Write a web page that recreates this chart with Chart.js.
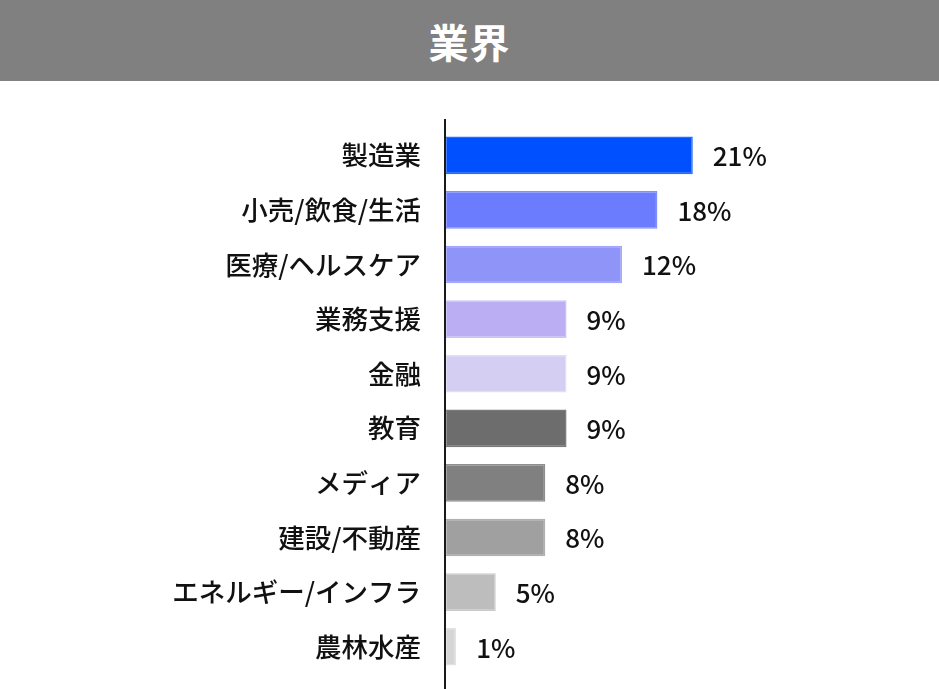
<!DOCTYPE html>
<html lang="ja">
<head>
<meta charset="utf-8">
<script src="https://cdn.jsdelivr.net/npm/chart.js@4/dist/chart.umd.min.js"></script>
<style>
  html, body { margin: 0; padding: 0; background: #fff; overflow: hidden; }
  #header {
    width: 939px; height: 81px; background: #808080; color: #fff;
    font-family: "Noto Sans CJK JP", sans-serif; font-weight: 700; font-size: 40px;
    display: flex; align-items: center; justify-content: center; letter-spacing: 1px;
  }
  canvas { display: block; }
</style>
</head>
<body>
<div id="header">業界</div>
<canvas id="chart" width="939" height="608"></canvas>
<script>
// categories (top to bottom)
const industries = [
  "製造業", "小売/飲食/生活", "医療/ヘルスケア", "業務支援", "金融",
  "教育", "メディア", "建設/不動産", "エネルギー/インフラ", "農林水産"
];
// bar lengths
const barValues = [21, 18, 15, 10.3, 10.3, 10.3, 8.5, 8.5, 4.3, 0.95];
// printed labels next to bars
const valueLabels = ["21%", "18%", "12%", "9%", "9%", "9%", "8%", "8%", "5%", "1%"];
const barColors = [
  "#0050ff", "#6b7cff", "#8f94f8", "#bbaef2", "#d4cff2",
  "#6d6d6d", "#808080", "#a0a0a0", "#bdbdbd", "#d6d6d6"
];
const borderColors = [
  "#2a6bff", "#8290ff", "#a3a7fa", "#cbc1f7", "#e2ddf8",
  "#7a7a7a", "#8e8e8e", "#b0b0b0", "#cacaca", "#e2e2e2"
];

const AXIS_X = 445;
const FONT = '"Noto Sans CJK JP", sans-serif';

const valueLabelPlugin = {
  id: "valueLabels",
  afterDatasetsDraw(chart) {
    const ctx = chart.ctx;
    const meta = chart.getDatasetMeta(0);
    ctx.save();
    ctx.fillStyle = "#111";
    ctx.font = "500 26px " + FONT;
    ctx.textAlign = "left";
    ctx.textBaseline = "middle";
    meta.data.forEach((bar, i) => {
      ctx.fillText(valueLabels[i], bar.x + 20, bar.y + 1);
    });
    ctx.restore();
  }
};

const axisLinePlugin = {
  id: "axisLine",
  afterDraw(chart) {
    const ctx = chart.ctx;
    const x = chart.scales.x.getPixelForValue(0);
    ctx.save();
    ctx.strokeStyle = "#1a1a1a";
    ctx.lineWidth = 2;
    ctx.beginPath();
    ctx.moveTo(x, 38);
    ctx.lineTo(x, chart.height);
    ctx.stroke();
    ctx.restore();
  }
};

new Chart(document.getElementById("chart").getContext("2d"), {
  type: "bar",
  data: {
    labels: industries,
    datasets: [{
      data: barValues,
      backgroundColor: barColors,
      borderColor: borderColors,
      borderWidth: 1.5,
      borderSkipped: false,
      barPercentage: 0.69,
      categoryPercentage: 1.0
    }]
  },
  options: {
    indexAxis: "y",
    responsive: false,
    animation: false,
    layout: { padding: { top: 47, bottom: 15, right: 140, left: 0 } },
    plugins: {
      legend: { display: false },
      tooltip: { enabled: false }
    },
    scales: {
      x: {
        display: false,
        min: 0,
        max: 30
      },
      y: {
        afterFit(scale) {
          scale.width = AXIS_X;
          scale.paddingTop = 0;
          scale.paddingBottom = 0;
        },
        grid: { display: false, drawTicks: false },
        border: { display: false },
        ticks: {
          color: "#111",
          padding: 24,
          font: { family: FONT, size: 26.5, weight: "500" }
        }
      }
    }
  },
  plugins: [valueLabelPlugin, axisLinePlugin]
});
</script>
</body>
</html>
